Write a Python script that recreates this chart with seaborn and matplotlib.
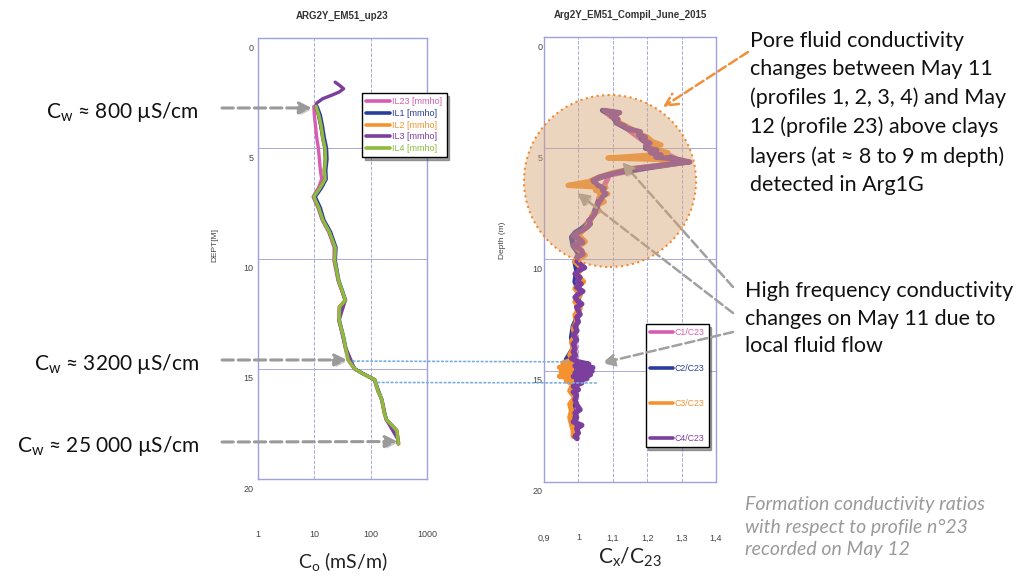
import numpy as np
import pandas as pd
import matplotlib
matplotlib.use("Agg")
import matplotlib.pyplot as plt
import matplotlib.patheffects as pe
import seaborn as sns
from matplotlib.patches import Ellipse, ConnectionPatch
from matplotlib.lines import Line2D
from matplotlib.transforms import ScaledTranslation

# ---------------- données ----------------
# panneau gauche : conductivité (mS/m) en fonction de la profondeur (m)
depth_il = [3.1, 3.5, 4.0, 4.5, 5.0, 5.5, 6.0, 6.4, 6.8, 7.2, 7.7, 8.25, 8.8, 9.5, 10.1, 10.6, 11.0,
            11.5, 11.9, 12.2, 12.8, 13.5, 14.0, 14.6, 15.0, 15.2, 15.5, 16.0, 16.4, 17.0, 17.3, 17.8, 18.2, 18.4]
il23 = [9.8, 10.0, 10.5, 11.0, 11.8, 12.3, 12.8, 13.5, 11.8, 9.5, 11.6, 13.8, 18.0, 22.5, 22.3, 24.5, 26.3,
        31.0, 35.0, 27.5, 27.0, 32.0, 35.0, 39.5, 51.0, 69.0, 116, 133, 156, 173, 188, 288, 302, 308]
il1 = [11.2, 12.8, 14.0, 15.0, 16.5, 16.8, 16.0, 16.3, 13.4, 10.4, 12.8, 14.8, 19.5, 24.3, 23.6, 25.6, 27.3,
       32.0, 36.0, 28.4, 27.9, 32.8, 35.9, 40.5, 52.5, 70.5, 119, 136, 159, 176, 191, 291, 306, 311]
il2 = [10.6, 11.9, 13.1, 14.0, 15.3, 15.6, 15.0, 15.4, 12.5, 9.7, 11.9, 14.0, 18.4, 23.2, 22.8, 25.0, 26.8,
       31.4, 35.4, 27.9, 27.4, 32.3, 35.4, 39.9, 51.8, 69.8, 117, 134, 157, 174, 189, 292, 306, 318]
il4 = [10.7, 12.0, 13.2, 14.1, 15.5, 15.8, 15.1, 15.5, 12.6, 9.8, 12.0, 14.1, 18.5, 23.4, 22.9, 25.1, 26.9,
       31.5, 35.5, 28.0, 27.5, 32.4, 35.5, 40.0, 52.0, 70.0, 118, 135, 158, 175, 190, 290, 305, 310]
depth_il3 = [2.0, 2.15, 2.3, 2.45, 2.6, 2.75, 2.95, 3.1, 3.5, 4.0, 4.5, 5.0, 5.5, 6.0, 6.4, 6.8, 7.2, 7.7,
             8.25, 8.8, 9.5, 10.1, 11.0, 11.9, 12.8, 14.0, 15.0, 15.5, 16.4, 17.3, 18.2, 18.4]
il3 = [23.4, 28.2, 33.1, 27.5, 20.0, 14.1, 11.0, 10.5, 11.8, 13.0, 14.0, 15.4, 15.7, 15.0, 15.4, 12.5, 9.7,
       11.9, 14.0, 18.4, 23.2, 22.8, 26.8, 35.4, 27.4, 35.4, 51.8, 117, 157, 189, 305, 309]

# panneau droit : rapports C/C23
depth_c1 = [3.3, 4.0, 4.8, 5.6, 6.2, 7.0, 8.0, 9.0, 10.0, 11.0, 12.0, 13.0, 14.0, 15.0, 16.0, 17.0, 18.0]
c1 = [1.072, 1.13, 1.20, 1.30, 1.09, 1.065, 1.045, 0.99, 1.0, 0.995, 1.0, 0.99, 0.99, 0.99, 0.99, 0.99, 0.995]

depth_c2 = [3.3, 3.5, 3.86, 4.1, 4.3, 4.6, 4.8, 5.0, 5.1, 5.3, 5.62, 5.75, 6.1, 6.45, 6.7, 7.0, 7.4, 7.9,
            8.4, 8.8, 9.0, 9.4, 9.8, 10.1, 10.5, 11.0, 11.5, 12.0, 12.5, 13.0, 13.5, 14.0, 14.5, 14.8,
            15.0, 15.3, 15.7, 16.2, 16.7, 17.2, 17.6, 18.0]
c2 = [1.070, 1.100, 1.110, 1.140, 1.175, 1.185, 1.205, 1.195, 1.220, 1.235, 1.315, 1.260, 1.105, 1.040,
      1.055, 1.070, 1.058, 1.045, 1.030, 0.990, 0.980, 0.985, 1.005, 0.990, 0.995, 0.990, 1.005, 0.995,
      1.000, 0.985, 0.980, 0.985, 0.965, 0.990, 0.975, 1.000, 0.985, 0.990, 0.980, 0.990, 0.985, 0.995]

depth_c3 = [3.3, 3.45, 3.6, 3.86, 4.1, 4.3, 4.5, 4.7, 4.85, 5.0, 5.2, 5.3, 5.44, 5.5, 5.62, 5.75, 5.9,
            6.1, 6.3, 6.5, 6.67, 6.76, 6.9, 7.05, 7.2, 7.4, 7.6, 7.8, 8.0, 8.3, 8.6, 8.9, 9.2, 9.5, 9.8,
            10.1, 10.4, 10.7, 11.0, 11.3, 11.6, 11.9, 12.2, 12.5, 12.8, 13.1, 13.4, 13.7, 14.0, 14.3,
            14.5, 14.65, 14.75, 14.85, 14.95, 15.05, 15.15, 15.25, 15.35, 15.45, 15.6, 15.9, 16.2, 16.5,
            16.8, 17.1, 17.4, 17.7, 17.95]
c3 = [1.080, 1.100, 1.110, 1.120, 1.150, 1.170, 1.200, 1.215, 1.240, 1.205, 1.260, 1.215, 1.086, 1.230,
      1.310, 1.250, 1.160, 1.100, 1.060, 1.030, 0.970, 1.080, 1.050, 1.085, 1.060, 1.075, 1.050, 1.060,
      1.040, 1.035, 1.020, 1.000, 1.020, 0.995, 1.020, 0.990, 1.010, 0.995, 1.015, 0.990, 1.005, 0.990,
      1.005, 0.990, 0.995, 0.985, 0.990, 0.980, 0.985, 0.975, 0.985, 0.955, 0.985, 0.945, 0.990, 0.950,
      0.985, 0.945, 0.990, 0.965, 0.985, 0.975, 0.990, 0.975, 0.980, 0.975, 0.980, 0.985, 0.985]

depth_c4 = [3.30, 3.40, 3.55, 3.70, 3.86, 4.00, 4.10, 4.20, 4.26, 4.40, 4.50, 4.62, 4.77, 4.90, 4.99,
            5.08, 5.20, 5.30, 5.40, 5.50, 5.62, 5.70, 5.80, 5.90, 6.00, 6.10, 6.20, 6.30, 6.45, 6.55,
            6.67, 6.80, 6.90, 7.05, 7.20, 7.35, 7.50, 7.65, 7.80, 7.94, 8.10, 8.25, 8.40, 8.56, 8.70,
            8.82, 8.94, 9.05, 9.15, 9.24, 9.32, 9.39, 9.50, 9.60, 9.76, 9.90, 10.07, 10.20, 10.37, 10.50,
            10.65, 10.80, 10.98, 11.10, 11.25, 11.43, 11.55, 11.70, 11.88, 12.00, 12.15, 12.30, 12.47,
            12.60, 12.80, 13.00, 13.20, 13.40, 13.60, 13.80, 14.00, 14.15, 14.30, 14.45, 14.60, 14.70,
            14.78, 14.86, 14.94, 15.02, 15.10, 15.18, 15.26, 15.35, 15.45, 15.55, 15.70, 15.85, 15.96,
            16.10, 16.30, 16.55, 16.75, 16.90, 17.10, 17.30, 17.45, 17.60, 17.80, 17.95, 18.05]
c4 = [1.075, 1.120, 1.095, 1.115, 1.112, 1.135, 1.141, 1.165, 1.180, 1.175, 1.195, 1.188, 1.208, 1.195,
      1.200, 1.228, 1.210, 1.240, 1.225, 1.290, 1.324, 1.275, 1.220, 1.170, 1.135, 1.112, 1.083, 1.060,
      1.042, 1.050, 1.057, 1.075, 1.070, 1.080, 1.069, 1.063, 1.057, 1.055, 1.050, 1.048, 1.040, 1.030,
      1.035, 1.025, 1.010, 0.995, 0.985, 1.000, 1.008, 1.013, 0.990, 0.985, 1.000, 1.010, 1.013, 0.995,
      0.996, 1.005, 1.018, 1.000, 0.990, 1.005, 0.996, 1.008, 0.995, 1.013, 1.000, 0.990, 0.999, 1.010,
      0.995, 1.000, 1.005, 0.995, 1.000, 0.990, 0.996, 0.985, 0.995, 0.985, 0.990, 0.985, 0.992, 0.980,
      1.000, 1.030, 0.990, 1.042, 0.995, 1.040, 0.990, 1.035, 0.985, 1.025, 0.995, 1.010, 0.985, 1.000,
      0.985, 0.995, 0.990, 0.996, 1.005, 0.990, 0.995, 0.985, 1.010, 0.995, 1.000, 0.990, 0.996]

il_names = ["IL23 [mmho]", "IL1 [mmho]", "IL2 [mmho]", "IL3 [mmho]", "IL4 [mmho]"]
c_names = ["C1/C23", "C2/C23", "C3/C23", "C4/C23"]
il_colors = ["#d65db1", "#2b3d9c", "#f5922f", "#7c3f9e", "#8dbb3d"]
c_colors = ["#d65db1", "#2b3d9c", "#f5922f", "#7c3f9e"]

depth_ticks = [0, 5, 10, 15, 20]
left_xticks = [1, 10, 100, 1000]
left_xticklabels = ["1", "10", "100", "1000"]
right_xticks = [0.9, 1.0, 1.1, 1.2, 1.3, 1.4]
right_xticklabels = ["0,9", "1", "1,1", "1,2", "1,3", "1,4"]

# tables longues pour seaborn
df_il = pd.concat([
    pd.DataFrame({"depth": depth_il, "cond": il23, "serie": il_names[0]}),
    pd.DataFrame({"depth": depth_il, "cond": il1, "serie": il_names[1]}),
    pd.DataFrame({"depth": depth_il, "cond": il2, "serie": il_names[2]}),
    pd.DataFrame({"depth": depth_il3, "cond": il3, "serie": il_names[3]}),
    pd.DataFrame({"depth": depth_il, "cond": il4, "serie": il_names[4]}),
], ignore_index=True)
df_c = pd.concat([
    pd.DataFrame({"depth": depth_c1, "ratio": c1, "serie": c_names[0]}),
    pd.DataFrame({"depth": depth_c2, "ratio": c2, "serie": c_names[1]}),
    pd.DataFrame({"depth": depth_c3, "ratio": c3, "serie": c_names[2]}),
    pd.DataFrame({"depth": depth_c4, "ratio": c4, "serie": c_names[3]}),
], ignore_index=True)

# ---------------- style ----------------
sns.set_style("white")
plt.rcParams["font.family"] = ["Lato", "DejaVu Sans"]
plt.rcParams["mathtext.fontset"] = "custom"
plt.rcParams["mathtext.rm"] = "Lato"
plt.rcParams["mathtext.it"] = "Lato"
plt.rcParams["mathtext.default"] = "rm"
small_font = ["Liberation Sans", "DejaVu Sans"]
grid_col = "#a9a9dd"
tick_col = "#444444"
shadow = [pe.SimplePatchShadow(offset=(1.5, -1.5), alpha=0.25), pe.Normal()]

fig = plt.figure(figsize=(10.27, 5.8), dpi=100)
ax1 = fig.add_axes([0.2512, 0.1741, 0.1646, 0.7603])
ax2 = fig.add_axes([0.5297, 0.1690, 0.1675, 0.7672])

sns.lineplot(data=df_il, x="cond", y="depth", hue="serie", hue_order=il_names, palette=il_colors,
             orient="y", sort=False, estimator=None, linewidth=2.4, legend=False, ax=ax1)
sns.lineplot(data=df_c, x="ratio", y="depth", hue="serie", hue_order=c_names, palette=c_colors,
             orient="y", sort=False, estimator=None, linewidth=3.8, legend=False, ax=ax2)

ax1.set_xscale("log")
ax1.set_xlim(1, 1000)
ax2.set_xlim(0.9, 1.4)
ax1.set_xticks(left_xticks)
ax1.set_xticklabels(left_xticklabels)
ax1.minorticks_off()
ax2.set_xticks(right_xticks)
ax2.set_xticklabels(right_xticklabels)

shift = ScaledTranslation(0, -0.09, fig.dpi_scale_trans)
for ax, title, ylab, ypad in [(ax1, "ARG2Y_EM51_up23", "DEPT[M]", 3),
                              (ax2, "Arg2Y_EM51_Compil_June_2015", "Depth (m)", 1)]:
    ax.set_ylim(20, 0)
    ax.set_yticks(depth_ticks)
    ax.set_yticklabels([str(t) for t in depth_ticks])
    ax.grid(True, axis="x", ls="--", color=grid_col, lw=0.7)
    ax.grid(True, axis="y", ls="-", color=grid_col, lw=0.7)
    for s in ax.spines.values():
        s.set_color("#a0a0dc")
        s.set_linewidth(1.0)
    ax.tick_params(axis="x", length=0, pad=37, labelsize=6.5, labelcolor=tick_col)
    ax.tick_params(axis="y", length=0, pad=ypad, labelsize=6.5, labelcolor=tick_col)
    for lab in ax.get_xticklabels() + ax.get_yticklabels():
        lab.set_fontfamily(small_font)
    for lab in ax.get_yticklabels():
        lab.set_transform(lab.get_transform() + shift)
    ax.set_title(title, fontsize=7, fontweight="bold", color="#333333", pad=14, family=small_font)
    ax.set_ylabel(ylab, fontsize=6, color=tick_col, family=small_font)

ax1.yaxis.set_label_coords(-0.237, 0.53)
ax2.yaxis.set_label_coords(-0.22, 0.544)
ax1.set_xlabel("C$_{o}$ (mS/m)", fontsize=14, color="#222222")
ax2.set_xlabel("C$_{x}$/C$_{23}$", fontsize=15, color="#222222")
ax1.xaxis.set_label_coords(0.503, -0.16)
ax2.xaxis.set_label_coords(0.50, -0.143)

# légendes
h1 = [Line2D([], [], color=c, lw=2.6) for c in il_colors]
leg1 = ax1.legend(h1, il_names, loc="upper left", bbox_to_anchor=(0.59, 0.885), frameon=True,
                  fancybox=False, shadow=True, edgecolor="black", handlelength=2.6,
                  labelspacing=0.3, borderpad=0.45, handletextpad=0.3, prop={"family": small_font, "size": 6.5})
leg1.get_frame().set_linewidth(1.0)
for t, c in zip(leg1.get_texts(), il_colors):
    t.set_color(c)

h2 = [Line2D([], [], color=c, lw=2.6) for c in c_colors]
leg2 = ax2.legend(h2, c_names, loc="upper left", bbox_to_anchor=(0.565, 0.365), frameon=True,
                  fancybox=False, shadow=True, edgecolor="black", handlelength=2.6,
                  labelspacing=3.0, borderpad=0.5, handletextpad=0.2, prop={"family": small_font, "size": 6.3})
leg2.get_frame().set_linewidth(1.0)
for t, c in zip(leg2.get_texts(), c_colors):
    t.set_color(c)

# cercle orange (zone au-dessus des argiles)
circle = Ellipse((6.10, 5.8 - 1.81), 1.72, 1.72, transform=fig.dpi_scale_trans, facecolor="#d6a272",
                 alpha=0.45, edgecolor="none", zorder=5)
fig.add_artist(circle)
circle_edge = Ellipse((6.10, 5.8 - 1.81), 1.72, 1.72, transform=fig.dpi_scale_trans, facecolor="none",
                      edgecolor="#f08a30", lw=1.5, ls=":", zorder=6)
fig.add_artist(circle_edge)

# lignes pointillées bleues reliant les deux panneaux
for (xa, ya), (xb, yb) in [((49, 14.65), (0.970, 14.6)), ((135, 15.62), (1.054, 15.55))]:
    con = ConnectionPatch(xyA=(xa, ya), coordsA=ax1.transData, xyB=(xb, yb), coordsB=ax2.transData,
                          color="#7aaee0", lw=1.2, ls=":", zorder=4)
    fig.add_artist(con)

# annotations gauche
gray = "#9a9a9a"
for label, base_y, tip in [("C$_{w}$ ≈ 800 µS/cm", 118, (9.0, 3.17)),
                           ("C$_{w}$ ≈ 3200 µS/cm", 370, (38, 14.6)),
                           ("C$_{w}$ ≈ 25 000 µS/cm", 452, (300, 18.3))]:
    fig.text(199 / 1027, 1 - base_y / 580, label, ha="right", va="baseline", fontsize=15, color="#111111")
    arr = ax1.annotate("", xy=tip, xycoords="data", xytext=(222, 580 - (base_y - 10)),
                       textcoords="figure pixels",
                       arrowprops=dict(arrowstyle="-|>", ls="--", color=gray, lw=2.2, mutation_scale=18,
                                       shrinkA=0, shrinkB=0), zorder=7)
    arr.arrow_patch.set_path_effects(shadow)

# textes de droite (va='baseline' : ligne de base de la dernière ligne)
fig.text(750 / 1027, 1 - 191 / 580,
         "Pore fluid conductivity\nchanges between May 11\n(profiles 1, 2, 3, 4) and May\n"
         "12 (profile 23) above clays\nlayers (at ≈ 8 to 9 m depth)\ndetected in Arg1G",
         ha="left", va="baseline", fontsize=15.5, color="#111111", linespacing=1.52)
fig.text(745 / 1027, 1 - 352 / 580,
         "High frequency conductivity\nchanges on May 11 due to\nlocal fluid flow",
         ha="left", va="baseline", fontsize=15.5, color="#111111", linespacing=1.46)
fig.text(745 / 1027, 1 - 555 / 580,
         "Formation conductivity ratios\nwith respect to profile n°23\nrecorded on May 12",
         ha="left", va="baseline", fontsize=14, color="#9a9a9a", style="italic", linespacing=1.38)

ax2.annotate("", xy=(663, 580 - 107), xycoords="figure pixels", xytext=(748, 580 - 52),
             textcoords="figure pixels",
             arrowprops=dict(arrowstyle="->", ls="--", color="#f0913a", lw=1.8, mutation_scale=22,
                             shrinkA=0, shrinkB=0))
for tip, tail in [((1.127, 5.62), (733, 287)), ((0.996, 7.0), (733, 313)), ((1.069, 14.65), (733, 332))]:
    arr = ax2.annotate("", xy=tip, xycoords="data", xytext=(tail[0], 580 - tail[1]),
                       textcoords="figure pixels",
                       arrowprops=dict(arrowstyle="-|>", ls="--", color="#a0a0a0", lw=1.8, mutation_scale=18,
                                       shrinkA=0, shrinkB=0), zorder=8)
    arr.arrow_patch.set_path_effects(shadow)

fig.savefig("out.png", dpi=100)
